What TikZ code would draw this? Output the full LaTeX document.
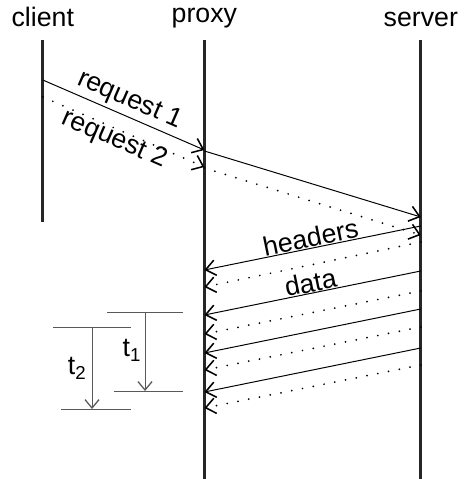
\documentclass[tikz,border=0pt]{standalone}
\usepackage{fontspec}
\setmainfont{Liberation Sans}
\usetikzlibrary{arrows.meta}

\begin{document}
\begin{tikzpicture}[
  >={Straight Barb[length=7pt,width=11pt,line width=1.1pt]},
  every node/.style={font=\fontsize{19}{22}\selectfont},
  life/.style={line width=2pt,color=black!85},
  msg/.style={->,line width=0.7pt},
  later/.style={->,line width=1.4pt,line cap=round,dash pattern=on 0pt off 7.8pt},
  tick/.style={line width=0.7pt,color=black!65},
  tickarrow/.style={tick,->,>={Straight Barb[length=6pt,width=10pt,line width=0.9pt]}},
]
\useasboundingbox (0,0) rectangle (11.65,11.975);

% the three parties
\node[anchor=base] (client) at (1.07,11.3) {client};
\node[anchor=base] (proxy) at (5.11,11.41) {proxy};
\node[anchor=base] (server) at (10.52,11.3) {server};

\draw[life] (client |- 0,10.975) -- (client |- 0,6.425);
\draw[life] (proxy |- 0,10.975) -- (proxy |- 0,0);
\draw[life] (server |- 0,10.975) -- (server |- 0,0);

% requests client -> proxy
\draw[msg] (client |- 0,9.975) -- (proxy |- 0,8.225)
  node[midway,sloped,above=-1pt] (req1) {request 1};
\draw[later] (client |- 0,9.55) -- (proxy |- 0,7.8)
  node[pos=0.47,sloped,below=-5pt] (req2) {request 2};

% proxy -> server
\draw[msg] (proxy |- 0,8.2) -- (server |- 0,6.55);
\draw[later] (proxy |- 0,7.775) -- (server |- 0,6.1);

% answers server -> proxy
\draw[msg] (server |- 0,6.325) -- (proxy |- 0,5.225)
  node[midway,sloped,above=-3pt] (hdr) {headers};
\draw[later] (server |- 0,5.925) -- (proxy |- 0,4.8);
\draw[msg] (server |- 0,5.2) -- (proxy |- 0,4.1)
  node[midway,sloped,above=-3pt] (dat) {data};
\foreach \y in {4.25,3.275}
  \draw[msg] (server |- 0,\y) -- (proxy |- 0,\y-1.1);
\foreach \y in {4.7,3.8,2.85}
  \draw[later] (server |- 0,\y) -- (proxy |- 0,\y-1.075);

% t1
\draw[tick] (2.675,4.175) -- (4.575,4.175);
\draw[tick] (2.85,2.2) -- (4.575,2.2);
\draw[tickarrow] (3.625,4.175) -- (3.625,2.2);
\node[anchor=base] (t1) at (3.3,3.05) {t\textsubscript{1}};

% t2
\draw[tick] (1.325,3.8) -- (3.275,3.8);
\draw[tick] (1.525,1.75) -- (3.275,1.75);
\draw[tickarrow] (2.3,3.8) -- (2.3,1.75);
\node[anchor=base] (t2) at (1.93,2.6) {t\textsubscript{2}};
\end{tikzpicture}
\end{document}
